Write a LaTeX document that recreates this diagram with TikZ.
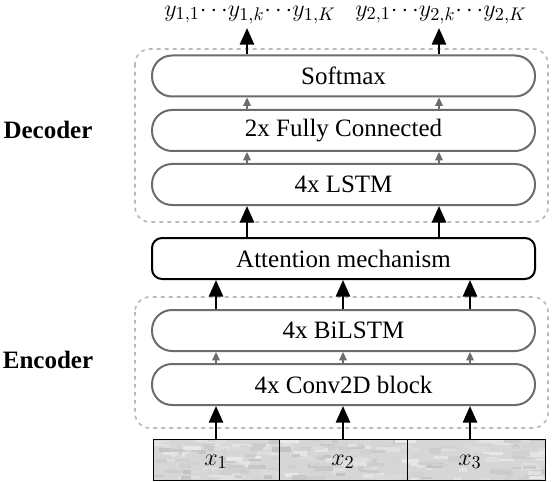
\documentclass[tikz,border=0pt]{standalone}
\usepackage{amsmath,amssymb}
\usepackage{fontspec}
\setmainfont{Liberation Serif}
\usepackage{xcolor}
\usetikzlibrary{arrows.meta}

\begin{document}
\begin{tikzpicture}[x=0.6pt,y=-0.6pt,
  font=\fontsize{15}{17}\selectfont,
  layer/.style={draw=gray!85!black,line width=1.2pt,rounded corners=12pt,
    minimum width=229.8pt,minimum height=24.6pt,inner sep=0pt},
  attn/.style={draw=black,line width=1.2pt,rounded corners=6pt,
    minimum width=229.8pt,minimum height=24.6pt,inner sep=0pt},
  group/.style={draw=gray!55,line width=1pt,dash pattern=on 2.2pt off 2.6pt,rounded corners=9pt},
  cell/.style={draw=black,line width=0.6pt,minimum height=24.6pt,inner sep=0pt},
  arr/.style={-{Triangle[width=8.5pt,length=10pt]},line width=1.4pt,black},
  garr/.style={-{Triangle[width=4.5pt,length=5pt]},line width=1pt,gray!85!black}]
  \useasboundingbox (0,0) rectangle (554,482);

  % Groups
  \draw[group] (135,49) rectangle (548,222);
  \draw[group] (135,297) rectangle (548,428);
  \node[font=\fontsize{15}{17}\selectfont\bfseries] (dec) at (48,130) {Decoder};
  \node[font=\fontsize{15}{17}\selectfont\bfseries] (enc) at (48,360) {Encoder};

  % Layers
  \node[layer] (soft)   at (343.5,76)    {Softmax};
  \node[layer] (fc)     at (343.5,130.5) {2x Fully Connected};
  \node[layer] (lstm)   at (343.5,184.5) {4x LSTM};
  \node[attn]  (att)    at (343.5,258.5) {Attention mechanism};
  \node[layer] (bilstm) at (343.5,330.5) {4x BiLSTM};
  \node[layer] (conv)   at (343.5,384.5) {4x Conv2D block};

  % Input strip
  \fill[gray!32] (153,439) rectangle (545,480);
  \begin{scope}
    \clip (153,439) rectangle (545,480);
    \pgfmathsetseed{11}
    \foreach \i in {1,...,260}{
      \pgfmathsetmacro\rx{153+rnd*392}
      \pgfmathsetmacro\ry{437+rnd*43}
      \pgfmathsetmacro\rw{5+rnd*16}
      \pgfmathsetmacro\rh{2+rnd*4}
      \pgfmathsetmacro\rs{int(18+rnd*30)}
      \fill[gray!\rs] (\rx,\ry) rectangle ++(\rw,\rh);
    }
  \end{scope}
  \node[cell,minimum width=75.6pt] (c1) at (216,459.5) {};
  \node[cell,minimum width=76.8pt] (c2) at (343,459.5) {};
  \node[cell,minimum width=82.8pt] (c3) at (476,459.5) {};
  \node (x1) at (216,462) {$x_1$};
  \node (x2) at (343,462) {$x_2$};
  \node (x3) at (470,462) {$x_3$};

  % Outputs
  \node[inner sep=1pt] (y1) at (250,15) {$y_{1,1}{\cdots}y_{1,k}{\cdots}y_{1,K}$};
  \node[inner sep=1pt] (y2) at (441,15) {$y_{2,1}{\cdots}y_{2,k}{\cdots}y_{2,K}$};
  \coordinate (o1) at (247,28);
  \coordinate (o2) at (439,28);

  % Encoder arrows
  \foreach \x in {x1,x2,x3}{
    \draw[arr] (\x |- c1.north) -- (\x |- conv.south);
    \draw[garr] (\x |- conv.north) -- (\x |- bilstm.south);
    \draw[arr] (\x |- bilstm.north) -- (\x |- att.south);
  }

  % Decoder arrows
  \foreach \o in {o1,o2}{
    \draw[arr] (\o |- att.north) -- (\o |- lstm.south);
    \draw[garr] (\o |- lstm.north) -- (\o |- fc.south);
    \draw[garr] (\o |- fc.north) -- (\o |- soft.south);
    \draw[arr] (\o |- soft.north) -- (\o);
  }
\end{tikzpicture}
\end{document}
